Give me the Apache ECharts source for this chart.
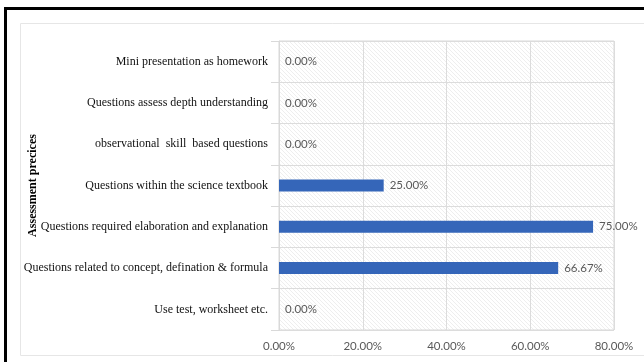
<!DOCTYPE html>
<html>
<head>
<meta charset="utf-8">
<script src="https://cdn.jsdelivr.net/npm/echarts@6/dist/echarts.min.js"></script>
<style>
  html, body { margin: 0; padding: 0; background: #ffffff; }
  #chart { width: 644px; height: 362px; }
</style>
</head>
<body>
<div id="chart"></div>
<script>
// Assessment practices, share of responses (%)
const categories = [
  'Mini presentation as homework',
  'Questions assess depth understanding',
  'observational  skill  based questions',
  'Questions within the science textbook',
  'Questions required elaboration and explanation',
  'Questions related to concept, defination & formula',
  'Use test, worksheet etc.'
];
const shares = [0, 0, 0, 25, 75, 66.67, 0];
const axisMax = 80;
const axisStep = 20;
const axisTitle = 'Assessment precices';

// light diagonal hatch used as the plot background
function hatchPattern() {
  const c = document.createElement('canvas');
  c.width = 4; c.height = 4;
  const g = c.getContext('2d');
  g.fillStyle = '#ffffff';
  g.fillRect(0, 0, 4, 4);
  g.strokeStyle = 'rgba(200,200,200,0.3)';
  g.lineWidth = 1;
  g.beginPath();
  g.moveTo(0, 0); g.lineTo(4, 4);
  g.moveTo(-1, 3); g.lineTo(1, 5);
  g.moveTo(3, -1); g.lineTo(5, 1);
  g.stroke();
  return { image: c, repeat: 'repeat' };
}

const pct = v => Number(v).toFixed(2) + '%';
const chart = echarts.init(document.getElementById('chart'), null, { renderer: 'canvas' });

chart.setOption({
  backgroundColor: '#ffffff',
  animation: false,
  graphic: [
    { type: 'rect', shape: { x: 5.5, y: 8.5, width: 660, height: 370 },
      style: { fill: 'none', stroke: '#000000', lineWidth: 3 }, z: 100 },
    { type: 'rect', shape: { x: 20.5, y: 23.5, width: 640, height: 332 },
      style: { fill: 'none', stroke: '#e6e6e6', lineWidth: 1 }, z: 100 }
  ],
  grid: {
    left: 279, right: 30, top: 41, bottom: 32,
    outerBoundsMode: 'none',
    containLabel: false,
    show: true,
    backgroundColor: hatchPattern(),
    borderColor: '#d9d9d9',
    borderWidth: 1
  },
  xAxis: {
    type: 'value',
    min: 0, max: axisMax, interval: axisStep,
    axisLine: { show: false },
    axisTick: { show: false },
    axisLabel: {
      formatter: v => pct(v),
      color: '#595959', fontFamily: 'Lato', fontSize: 11.5, margin: 10
    },
    splitLine: { show: true, lineStyle: { color: '#dcdcdc', width: 1 } }
  },
  yAxis: {
    type: 'category',
    data: categories,
    inverse: true,
    name: axisTitle,
    nameLocation: 'middle',
    nameGap: 240,
    nameMoveOverlap: false,
    nameRotate: 90,
    nameTextStyle: {
      fontFamily: 'Liberation Serif', fontWeight: 'bold', fontSize: 12, color: '#000000'
    },
    axisLine: { show: true, lineStyle: { color: '#d9d9d9' } },
    axisTick: { show: true, length: 8, lineStyle: { color: '#d9d9d9' } },
    axisLabel: {
      color: '#111111', fontFamily: 'Liberation Serif', fontSize: 12, margin: 11
    },
    splitLine: { show: true, lineStyle: { color: '#dcdcdc', width: 1 } }
  },
  series: [{
    type: 'bar',
    data: shares,
    barWidth: 12,
    itemStyle: { color: '#3566b9' },
    label: {
      show: true,
      position: 'right',
      distance: 6,
      formatter: p => pct(p.value),
      color: '#595959', fontFamily: 'Lato', fontSize: 11.5
    }
  }]
});
</script>
</body>
</html>
